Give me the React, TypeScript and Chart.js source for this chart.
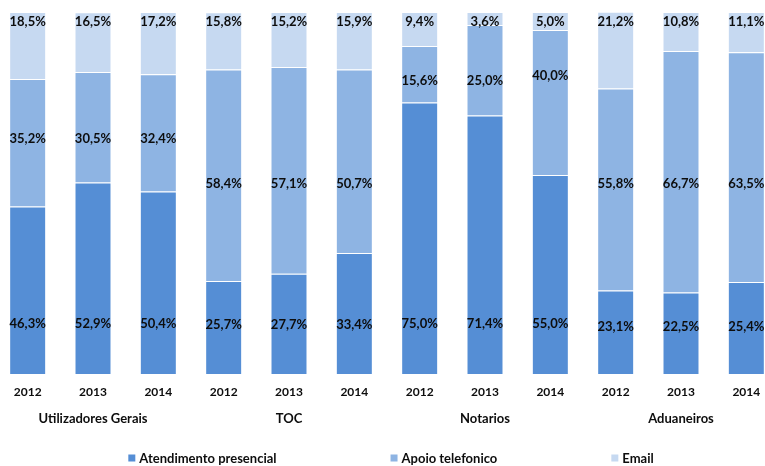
import React, { useEffect, useRef } from "react";
import { Chart, registerables } from "chart.js";

Chart.register(...registerables);

const years = ["2012", "2013", "2014", "2012", "2013", "2014", "2012", "2013", "2014", "2012", "2013", "2014"];
const groups = ["Utilizadores Gerais", "TOC", "Notarios", "Aduaneiros"];
const presencial = [46.3, 52.9, 50.4, 25.7, 27.7, 33.4, 75.0, 71.4, 55.0, 23.1, 22.5, 25.4];
const telefonico = [35.2, 30.5, 32.4, 58.4, 57.1, 50.7, 15.6, 25.0, 40.0, 55.8, 66.7, 63.5];
const email = [18.5, 16.5, 17.2, 15.8, 15.2, 15.9, 9.4, 3.6, 5.0, 21.2, 10.8, 11.1];
const seriesNames = ["Atendimento presencial", "Apoio telefonico", "Email"];
const seriesColors = ["#558ED5", "#8EB4E3", "#C6D9F1"];

// label anchors, in percent units of the value axis
const presencialLabelAt = [14, 14, 14, 13.5, 13.5, 13.5, 14, 14, 14, 13, 13, 13];
const telefonicoLabelAt = [65, 65, 65, 52.5, 52.5, 52.5, 81, 81, 82.5, 52.5, 52.5, 52.5];
const emailLabelAt = 97.2;

const FONT = "Lato, 'Open Sans', sans-serif";

const fmt = (v: number) => v.toFixed(1).replace(".", ",") + "%";

const labelsPlugin = {
  id: "segLabels",
  afterDatasetsDraw(chart: any) {
    const ctx = chart.ctx;
    const y = chart.scales.y;
    ctx.save();
    ctx.font = `bold 13px ${FONT}`;
    ctx.fillStyle = "#0d0d0d";
    ctx.textAlign = "center";
    ctx.textBaseline = "middle";
    chart.data.datasets.forEach((ds: any, i: number) => {
      const meta = chart.getDatasetMeta(i);
      meta.data.forEach((el: any, j: number) => {
        let anchor: number;
        if (i === 0) anchor = presencialLabelAt[j];
        else if (i === 1) anchor = telefonicoLabelAt[j];
        else anchor = emailLabelAt;
        ctx.fillText(fmt(ds.data[j]), el.x, y.getPixelForValue(anchor));
      });
    });
    ctx.restore();
  },
};

const legendPlugin = {
  id: "customLegend",
  afterDraw(chart: any) {
    const ctx = chart.ctx;
    ctx.save();
    ctx.font = `bold 13px ${FONT}`;
    ctx.textBaseline = "middle";
    ctx.textAlign = "left";
    const box = 7;
    const gapText = 4;
    const gapItem = 114;
    const items = chart.data.datasets.map((d: any) => ({
      text: d.label,
      color: d.backgroundColor,
      w: ctx.measureText(d.label).width,
    }));
    let total = 0;
    items.forEach((it: any, k: number) => {
      total += box + gapText + it.w + (k < items.length - 1 ? gapItem : 0);
    });
    let x = chart.width / 2 + 4 - total / 2;
    const yc = 459;
    items.forEach((it: any) => {
      ctx.fillStyle = it.color;
      ctx.fillRect(x, yc - box / 2 - 1, box, box);
      ctx.fillStyle = "#0d0d0d";
      ctx.fillText(it.text, x + box + gapText, yc);
      x += box + gapText + it.w + gapItem;
    });
    ctx.restore();
  },
};

export default function App() {
  const ref = useRef<HTMLCanvasElement>(null);
  useEffect(() => {
    if (!ref.current) return;
    const seriesData = [presencial, telefonico, email];
    const chart = new Chart(ref.current, {
      type: "bar",
      data: {
        labels: years,
        datasets: seriesData.map((d, i) => ({
          label: seriesNames[i],
          data: d,
          backgroundColor: seriesColors[i],
          borderColor: "rgba(255,255,255,0.35)",
          borderWidth: 1,
          categoryPercentage: 1,
          barPercentage: 0.566,
        })),
      },
      options: {
        responsive: false,
        animation: false,
        layout: { padding: { top: 12, bottom: 38, left: 0, right: 0 } },
        plugins: { legend: { display: false }, tooltip: { enabled: false } },
        scales: {
          x: {
            stacked: true,
            grid: { display: false, drawTicks: false },
            border: { display: false },
            ticks: {
              color: "#0d0d0d",
              font: { family: FONT, size: 12, weight: "bold" },
              padding: 11,
              maxRotation: 0,
              autoSkip: false,
            },
          },
          x2: {
            type: "category",
            labels: groups,
            position: "bottom",
            offset: true,
            weight: 1,
            grid: { display: false, drawTicks: false },
            border: { display: false },
            ticks: {
              color: "#0d0d0d",
              font: { family: FONT, size: 13, weight: "bold" },
              padding: 1,
              maxRotation: 0,
              autoSkip: false,
            },
          },
          y: { stacked: true, min: 0, max: 100, display: false },
        },
      } as any,
      plugins: [labelsPlugin, legendPlugin],
    });
    return () => chart.destroy();
  }, []);
  return (
    <div style={{ position: "fixed", left: -5, top: 0, width: 784, height: 466, background: "#fff" }}>
      <canvas ref={ref} width={784} height={466} />
    </div>
  );
}
